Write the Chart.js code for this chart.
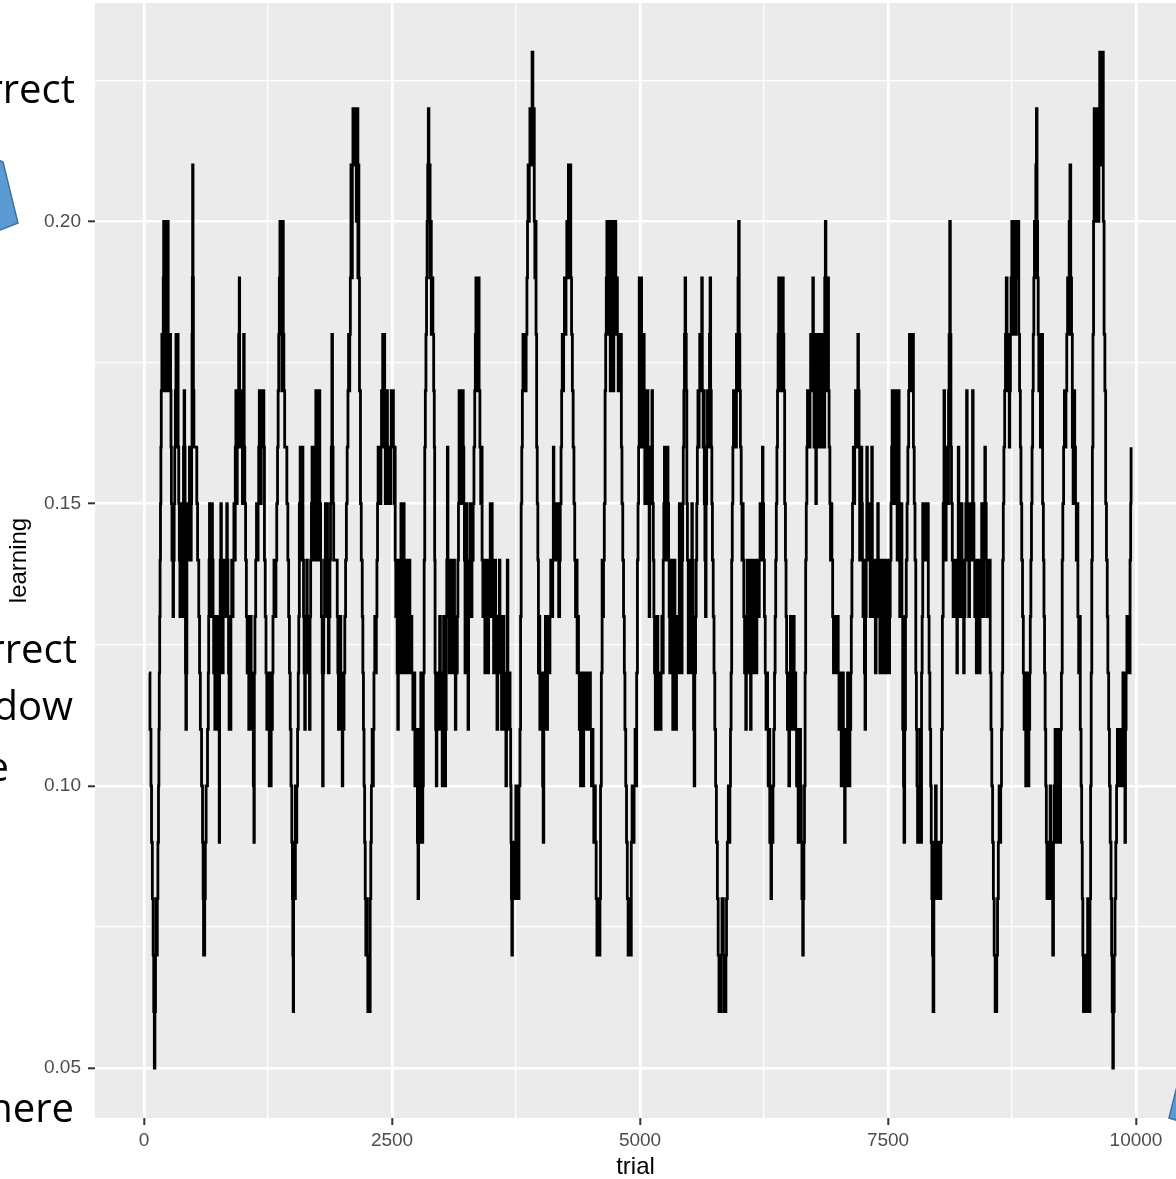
<!DOCTYPE html>
<html>
<head>
<meta charset="utf-8">
<script src="https://cdn.jsdelivr.net/npm/chart.js@4.4.1/dist/chart.umd.min.js"></script>
<style>
  html, body { margin: 0; padding: 0; background: #ffffff; }
</style>
</head>
<body>
<canvas id="myChart" width="1176" height="1179"></canvas>
<script>
// trial at which the value changes (step series, value holds until next trial)
const trial = [
  50, 60, 70, 76, 84, 92, 98, 104, 110, 116,
  122, 128, 134, 140, 146, 150, 154, 158, 162, 166,
  170, 174, 180, 186, 190, 194, 198, 202, 206, 210,
  214, 218, 222, 226, 230, 236, 240, 244, 248, 252,
  256, 262, 268, 272, 276, 282, 288, 292, 298, 304,
  310, 316, 322, 330, 336, 344, 350, 356, 362, 368,
  374, 380, 386, 392, 398, 404, 410, 414, 418, 422,
  428, 432, 440, 446, 452, 458, 464, 470, 476, 480,
  484, 487, 490, 494, 498, 503, 532, 540, 552, 560,
  568, 580, 590, 596, 600, 612, 618, 626, 640, 648,
  652, 656, 660, 668, 675, 682, 690, 696, 702, 708,
  714, 720, 726, 732, 738, 744, 750, 754, 758, 762,
  768, 774, 780, 786, 792, 798, 804, 810, 816, 822,
  828, 834, 840, 846, 852, 858, 864, 870, 876, 884,
  890, 898, 906, 914, 920, 926, 932, 940, 948, 954,
  960, 964, 970, 976, 984, 992, 998, 1004, 1010, 1016,
  1024, 1032, 1040, 1048, 1056, 1064, 1072, 1080, 1088, 1096,
  1102, 1108, 1112, 1118, 1126, 1134, 1142, 1150, 1156, 1162,
  1168, 1174, 1182, 1190, 1208, 1214, 1222, 1230, 1238, 1246,
  1254, 1262, 1270, 1276, 1282, 1288, 1294, 1300, 1310, 1320,
  1330, 1338, 1346, 1352, 1358, 1364, 1370, 1380, 1390, 1398,
  1404, 1410, 1418, 1440, 1450, 1458, 1466, 1474, 1482, 1490,
  1496, 1500, 1504, 1508, 1514, 1520, 1526, 1532, 1540, 1548,
  1555, 1560, 1566, 1574, 1582, 1590, 1596, 1602, 1608, 1614,
  1620, 1626, 1632, 1640, 1646, 1654, 1660, 1668, 1674, 1680,
  1688, 1694, 1700, 1708, 1716, 1724, 1732, 1738, 1746, 1752,
  1760, 1766, 1772, 1780, 1788, 1796, 1800, 1806, 1812, 1820,
  1828, 1836, 1844, 1850, 1858, 1866, 1874, 1880, 1888, 1894,
  1900, 1906, 1912, 1948, 1954, 1960, 1966, 1972, 1978, 1984,
  1990, 1998, 2004, 2010, 2016, 2024, 2032, 2040, 2048, 2056,
  2062, 2068, 2074, 2080, 2086, 2094, 2100, 2106, 2120, 2126,
  2140, 2146, 2156, 2162, 2166, 2172, 2182, 2190, 2200, 2206,
  2212, 2218, 2224, 2230, 2236, 2244, 2250, 2256, 2268, 2274,
  2280, 2286, 2292, 2300, 2306, 2312, 2318, 2326, 2336, 2342,
  2348, 2354, 2360, 2366, 2372, 2380, 2388, 2394, 2400, 2406,
  2414, 2420, 2426, 2432, 2440, 2448, 2454, 2462, 2470, 2478,
  2486, 2492, 2500, 2508, 2514, 2520, 2526, 2532, 2538, 2546,
  2552, 2558, 2564, 2570, 2576, 2584, 2590, 2596, 2602, 2610,
  2616, 2622, 2630, 2638, 2646, 2654, 2660, 2666, 2674, 2680,
  2690, 2700, 2710, 2720, 2730, 2740, 2748, 2756, 2762, 2768,
  2776, 2782, 2790, 2796, 2804, 2810, 2816, 2824, 2830, 2836,
  2842, 2848, 2854, 2860, 2866, 2872, 2878, 2884, 2890, 2896,
  2904, 2912, 2920, 2926, 2930, 2934, 2940, 2946, 2952, 2960,
  2966, 2974, 2980, 2988, 2994, 3000, 3006, 3012, 3020, 3026,
  3034, 3040, 3046, 3052, 3058, 3064, 3070, 3076, 3082, 3090,
  3096, 3104, 3110, 3116, 3124, 3130, 3138, 3144, 3150, 3158,
  3164, 3170, 3176, 3182, 3190, 3196, 3202, 3210, 3218, 3224,
  3230, 3236, 3242, 3248, 3254, 3260, 3266, 3272, 3280, 3286,
  3292, 3300, 3306, 3312, 3318, 3326, 3334, 3340, 3346, 3352,
  3358, 3364, 3372, 3378, 3386, 3394, 3400, 3408, 3416, 3424,
  3430, 3436, 3444, 3450, 3458, 3466, 3474, 3482, 3490, 3496,
  3504, 3510, 3516, 3524, 3530, 3538, 3544, 3552, 3558, 3566,
  3574, 3582, 3588, 3596, 3604, 3612, 3620, 3628, 3636, 3642,
  3648, 3654, 3662, 3668, 3676, 3684, 3690, 3696, 3700, 3704,
  3708, 3714, 3720, 3726, 3734, 3740, 3748, 3756, 3764, 3772,
  3780, 3790, 3796, 3802, 3808, 3814, 3820, 3828, 3836, 3844,
  3852, 3860, 3866, 3872, 3878, 3884, 3890, 3898, 3904, 3912,
  3920, 3926, 3934, 3940, 3946, 3952, 3958, 3964, 3970, 3976,
  3984, 3990, 3996, 4004, 4012, 4018, 4024, 4030, 4038, 4046,
  4052, 4060, 4068, 4076, 4084, 4092, 4100, 4110, 4120, 4126,
  4132, 4140, 4148, 4156, 4164, 4172, 4180, 4190, 4196, 4204,
  4210, 4216, 4224, 4230, 4238, 4246, 4254, 4262, 4270, 4278,
  4286, 4294, 4302, 4310, 4318, 4326, 4334, 4342, 4350, 4358,
  4366, 4374, 4380, 4388, 4394, 4400, 4408, 4416, 4424, 4432,
  4440, 4448, 4456, 4464, 4472, 4480, 4490, 4500, 4510, 4518,
  4526, 4534, 4542, 4550, 4558, 4566, 4580, 4588, 4596, 4602,
  4610, 4618, 4624, 4632, 4640, 4648, 4654, 4660, 4666, 4672,
  4680, 4688, 4694, 4700, 4706, 4712, 4718, 4724, 4730, 4736,
  4742, 4748, 4756, 4764, 4772, 4780, 4788, 4796, 4804, 4812,
  4818, 4826, 4834, 4842, 4848, 4856, 4864, 4872, 4880, 4896,
  4904, 4912, 4920, 4930, 4940, 4950, 4958, 4966, 4974, 4980,
  4986, 4992, 4998, 5004, 5010, 5016, 5022, 5030, 5036, 5042,
  5048, 5054, 5060, 5066, 5072, 5080, 5086, 5092, 5098, 5106,
  5112, 5120, 5126, 5134, 5140, 5146, 5154, 5160, 5166, 5174,
  5180, 5188, 5196, 5204, 5212, 5220, 5226, 5234, 5240, 5246,
  5254, 5262, 5268, 5276, 5282, 5288, 5294, 5300, 5308, 5316,
  5322, 5330, 5338, 5346, 5352, 5360, 5368, 5376, 5382, 5390,
  5396, 5404, 5410, 5416, 5424, 5430, 5436, 5442, 5448, 5454,
  5460, 5466, 5472, 5478, 5486, 5492, 5500, 5508, 5514, 5522,
  5528, 5534, 5540, 5546, 5552, 5560, 5566, 5572, 5578, 5584,
  5590, 5596, 5602, 5608, 5616, 5622, 5628, 5636, 5642, 5648,
  5654, 5660, 5666, 5672, 5680, 5688, 5694, 5700, 5706, 5712,
  5718, 5724, 5730, 5738, 5746, 5754, 5762, 5770, 5780, 5788,
  5796, 5804, 5810, 5818, 5826, 5840, 5848, 5854, 5860, 5866,
  5872, 5880, 5890, 5898, 5906, 5912, 5918, 5924, 5930, 5936,
  5942, 5950, 5958, 5964, 5972, 5980, 5988, 5994, 6000, 6006,
  6012, 6020, 6028, 6034, 6040, 6046, 6054, 6060, 6066, 6072,
  6080, 6086, 6094, 6100, 6108, 6114, 6120, 6128, 6134, 6140,
  6148, 6156, 6162, 6170, 6178, 6186, 6194, 6202, 6210, 6218,
  6226, 6234, 6240, 6246, 6254, 6262, 6270, 6278, 6286, 6292,
  6300, 6308, 6314, 6320, 6326, 6334, 6340, 6348, 6356, 6362,
  6368, 6374, 6380, 6386, 6392, 6398, 6404, 6412, 6420, 6428,
  6436, 6444, 6450, 6458, 6466, 6472, 6478, 6486, 6492, 6500,
  6508, 6516, 6522, 6530, 6538, 6546, 6554, 6562, 6570, 6578,
  6586, 6594, 6602, 6610, 6618, 6626, 6632, 6640, 6646, 6652,
  6658, 6664, 6670, 6676, 6682, 6688, 6694, 6700, 6708, 6714,
  6720, 6728, 6734, 6742, 6748, 6754, 6760, 6766, 6772, 6778,
  6784, 6790, 6796, 6804, 6810, 6818, 6824, 6830, 6836, 6844,
  6850, 6856, 6862, 6868, 6874, 6880, 6886, 6894, 6900, 6906,
  6914, 6920, 6928, 6934, 6942, 6950, 6958, 6966, 6974, 6982,
  6990, 6998, 7006, 7014, 7020, 7028, 7036, 7044, 7050, 7056,
  7062, 7068, 7076, 7084, 7092, 7100, 7108, 7116, 7124, 7130,
  7136, 7142, 7150, 7156, 7164, 7172, 7180, 7188, 7196, 7202,
  7208, 7214, 7220, 7228, 7236, 7242, 7248, 7254, 7262, 7268,
  7274, 7280, 7286, 7292, 7300, 7306, 7314, 7320, 7328, 7336,
  7342, 7350, 7358, 7366, 7372, 7380, 7388, 7396, 7402, 7410,
  7418, 7426, 7434, 7440, 7448, 7456, 7464, 7470, 7478, 7486,
  7494, 7500, 7508, 7516, 7522, 7530, 7536, 7542, 7550, 7556,
  7564, 7570, 7578, 7586, 7592, 7600, 7606, 7612, 7618, 7626,
  7634, 7640, 7648, 7656, 7661, 7668, 7676, 7684, 7692, 7700,
  7708, 7716, 7724, 7730, 7738, 7746, 7756, 7764, 7772, 7780,
  7786, 7792, 7798, 7806, 7814, 7822, 7830, 7838, 7844, 7850,
  7858, 7866, 7874, 7882, 7890, 7898, 7906, 7914, 7922, 7930,
  7936, 7942, 7948, 7954, 7962, 7970, 7978, 7986, 7992, 8000,
  8008, 8016, 8024, 8032, 8040, 8048, 8056, 8064, 8070, 8078,
  8086, 8094, 8102, 8110, 8116, 8122, 8128, 8134, 8140, 8148,
  8156, 8164, 8172, 8180, 8188, 8194, 8200, 8208, 8214, 8222,
  8230, 8238, 8246, 8254, 8262, 8268, 8276, 8284, 8292, 8298,
  8306, 8314, 8322, 8330, 8338, 8346, 8352, 8358, 8366, 8374,
  8382, 8390, 8398, 8406, 8414, 8422, 8428, 8436, 8444, 8452,
  8460, 8468, 8476, 8482, 8490, 8498, 8506, 8514, 8522, 8530,
  8538, 8546, 8554, 8562, 8570, 8580, 8596, 8604, 8612, 8620,
  8628, 8636, 8644, 8650, 8656, 8662, 8668, 8676, 8684, 8692,
  8700, 8708, 8716, 8722, 8728, 8734, 8740, 8748, 8756, 8764,
  8772, 8780, 8788, 8796, 8804, 8812, 8818, 8826, 8834, 8840,
  8848, 8856, 8864, 8872, 8880, 8888, 8896, 8904, 8912, 8920,
  8928, 8934, 8940, 8946, 8952, 8958, 8964, 8970, 8976, 8982,
  8990, 8996, 9002, 9008, 9014, 9020, 9028, 9036, 9042, 9050,
  9058, 9066, 9072, 9078, 9084, 9090, 9096, 9102, 9110, 9118,
  9126, 9134, 9142, 9150, 9160, 9168, 9176, 9184, 9192, 9200,
  9208, 9216, 9224, 9232, 9240, 9248, 9256, 9262, 9270, 9278,
  9286, 9294, 9302, 9310, 9318, 9326, 9334, 9342, 9350, 9358,
  9366, 9374, 9382, 9390, 9398, 9406, 9414, 9422, 9430, 9438,
  9446, 9452, 9458, 9464, 9470, 9480, 9488, 9496, 9504, 9512,
  9520, 9528, 9536, 9542, 9548, 9554, 9560, 9566, 9572, 9578,
  9588, 9596, 9604, 9612, 9620, 9626, 9634, 9650, 9656, 9670,
  9678, 9686, 9694, 9702, 9710, 9716, 9724, 9732, 9740, 9748,
  9754, 9760, 9766, 9772, 9780, 9788, 9796, 9804, 9812, 9820,
  9828, 9836, 9844, 9852, 9860, 9868, 9876, 9882, 9888, 9894,
  9900, 9908, 9916, 9924, 9932, 9940, 9946, 9950,
];

const learning = [
  0.12, 0.11, 0.10, 0.09, 0.08, 0.07, 0.06, 0.05, 0.06, 0.07,
  0.08, 0.07, 0.08, 0.09, 0.10, 0.11, 0.12, 0.13, 0.14, 0.15,
  0.16, 0.17, 0.18, 0.17, 0.18, 0.19, 0.20, 0.19, 0.18, 0.17,
  0.18, 0.17, 0.18, 0.19, 0.20, 0.19, 0.20, 0.18, 0.17, 0.18,
  0.17, 0.18, 0.17, 0.16, 0.15, 0.14, 0.15, 0.13, 0.14, 0.15,
  0.16, 0.17, 0.18, 0.17, 0.18, 0.16, 0.15, 0.14, 0.13, 0.14,
  0.15, 0.14, 0.13, 0.14, 0.16, 0.17, 0.16, 0.14, 0.12, 0.11,
  0.12, 0.14, 0.15, 0.14, 0.15, 0.16, 0.15, 0.14, 0.15, 0.16,
  0.18, 0.19, 0.21, 0.19, 0.17, 0.16, 0.15, 0.14, 0.13, 0.12,
  0.11, 0.10, 0.09, 0.08, 0.07, 0.08, 0.09, 0.10, 0.11, 0.12,
  0.13, 0.14, 0.15, 0.14, 0.13, 0.15, 0.14, 0.13, 0.12, 0.13,
  0.11, 0.12, 0.13, 0.12, 0.11, 0.12, 0.13, 0.11, 0.09, 0.12,
  0.14, 0.15, 0.13, 0.14, 0.12, 0.13, 0.14, 0.13, 0.14, 0.13,
  0.14, 0.15, 0.14, 0.13, 0.12, 0.11, 0.12, 0.11, 0.13, 0.14,
  0.13, 0.14, 0.15, 0.14, 0.16, 0.17, 0.15, 0.16, 0.17, 0.18,
  0.19, 0.17, 0.16, 0.17, 0.16, 0.15, 0.17, 0.18, 0.16, 0.15,
  0.14, 0.13, 0.12, 0.13, 0.11, 0.12, 0.13, 0.12, 0.11, 0.12,
  0.10, 0.09, 0.12, 0.13, 0.14, 0.15, 0.14, 0.15, 0.16, 0.17,
  0.16, 0.15, 0.16, 0.17, 0.16, 0.14, 0.13, 0.12, 0.11, 0.12,
  0.11, 0.10, 0.11, 0.10, 0.12, 0.11, 0.12, 0.13, 0.14, 0.13,
  0.14, 0.15, 0.16, 0.17, 0.18, 0.19, 0.20, 0.18, 0.17, 0.20,
  0.18, 0.17, 0.16, 0.15, 0.14, 0.13, 0.12, 0.11, 0.10, 0.09,
  0.08, 0.07, 0.06, 0.08, 0.09, 0.08, 0.10, 0.09, 0.10, 0.11,
  0.12, 0.13, 0.15, 0.16, 0.14, 0.15, 0.16, 0.14, 0.13, 0.12,
  0.11, 0.13, 0.12, 0.14, 0.13, 0.12, 0.13, 0.11, 0.13, 0.14,
  0.15, 0.16, 0.15, 0.16, 0.14, 0.15, 0.17, 0.15, 0.14, 0.16,
  0.15, 0.17, 0.15, 0.14, 0.13, 0.12, 0.10, 0.12, 0.13, 0.14,
  0.15, 0.13, 0.15, 0.13, 0.12, 0.13, 0.14, 0.15, 0.16, 0.18,
  0.16, 0.15, 0.14, 0.13, 0.12, 0.11, 0.12, 0.11, 0.13, 0.12,
  0.11, 0.10, 0.12, 0.11, 0.12, 0.13, 0.14, 0.15, 0.16, 0.17,
  0.18, 0.17, 0.18, 0.19, 0.21, 0.19, 0.21, 0.22, 0.21, 0.22,
  0.20, 0.22, 0.19, 0.21, 0.19, 0.17, 0.15, 0.14, 0.13, 0.12,
  0.11, 0.10, 0.09, 0.08, 0.07, 0.08, 0.07, 0.06, 0.07, 0.06,
  0.08, 0.09, 0.10, 0.11, 0.10, 0.11, 0.12, 0.13, 0.12, 0.13,
  0.14, 0.15, 0.16, 0.15, 0.16, 0.15, 0.16, 0.17, 0.16, 0.18,
  0.16, 0.18, 0.16, 0.15, 0.16, 0.17, 0.16, 0.15, 0.16, 0.15,
  0.16, 0.17, 0.16, 0.17, 0.16, 0.15, 0.16, 0.14, 0.13, 0.14,
  0.12, 0.11, 0.13, 0.14, 0.12, 0.13, 0.15, 0.13, 0.12, 0.14,
  0.15, 0.13, 0.14, 0.12, 0.13, 0.14, 0.12, 0.13, 0.14, 0.12,
  0.13, 0.12, 0.11, 0.12, 0.10, 0.11, 0.10, 0.09, 0.08, 0.09,
  0.11, 0.10, 0.12, 0.10, 0.09, 0.10, 0.12, 0.14, 0.16, 0.17,
  0.18, 0.19, 0.20, 0.21, 0.22, 0.20, 0.21, 0.19, 0.20, 0.18,
  0.19, 0.18, 0.17, 0.16, 0.14, 0.12, 0.11, 0.10, 0.11, 0.12,
  0.11, 0.12, 0.13, 0.11, 0.12, 0.11, 0.10, 0.12, 0.13, 0.12,
  0.10, 0.11, 0.13, 0.14, 0.16, 0.14, 0.13, 0.12, 0.13, 0.14,
  0.12, 0.13, 0.12, 0.13, 0.14, 0.12, 0.11, 0.13, 0.12, 0.13,
  0.14, 0.15, 0.17, 0.16, 0.17, 0.15, 0.16, 0.17, 0.16, 0.15,
  0.14, 0.12, 0.14, 0.15, 0.13, 0.12, 0.11, 0.13, 0.14, 0.15,
  0.14, 0.13, 0.15, 0.14, 0.15, 0.16, 0.17, 0.18, 0.19, 0.18,
  0.17, 0.18, 0.19, 0.17, 0.16, 0.15, 0.16, 0.14, 0.13, 0.14,
  0.13, 0.12, 0.13, 0.14, 0.13, 0.12, 0.13, 0.14, 0.15, 0.14,
  0.15, 0.13, 0.14, 0.12, 0.13, 0.14, 0.12, 0.13, 0.11, 0.12,
  0.13, 0.14, 0.12, 0.13, 0.11, 0.12, 0.13, 0.12, 0.11, 0.12,
  0.10, 0.12, 0.14, 0.12, 0.11, 0.12, 0.11, 0.10, 0.09, 0.08,
  0.07, 0.08, 0.09, 0.08, 0.09, 0.08, 0.10, 0.09, 0.10, 0.08,
  0.10, 0.11, 0.13, 0.15, 0.16, 0.17, 0.18, 0.17, 0.18, 0.17,
  0.18, 0.19, 0.20, 0.21, 0.20, 0.21, 0.22, 0.21, 0.22, 0.23,
  0.21, 0.22, 0.20, 0.19, 0.20, 0.18, 0.16, 0.15, 0.14, 0.12,
  0.13, 0.11, 0.12, 0.11, 0.12, 0.10, 0.09, 0.11, 0.12, 0.13,
  0.12, 0.11, 0.12, 0.13, 0.12, 0.13, 0.14, 0.13, 0.14, 0.16,
  0.15, 0.14, 0.15, 0.14, 0.15, 0.14, 0.13, 0.14, 0.15, 0.16,
  0.17, 0.18, 0.17, 0.18, 0.19, 0.18, 0.19, 0.20, 0.19, 0.21,
  0.20, 0.21, 0.19, 0.18, 0.17, 0.16, 0.15, 0.14, 0.13, 0.14,
  0.12, 0.13, 0.12, 0.11, 0.12, 0.10, 0.11, 0.12, 0.10, 0.11,
  0.12, 0.11, 0.12, 0.11, 0.12, 0.11, 0.12, 0.11, 0.10, 0.11,
  0.10, 0.09, 0.10, 0.09, 0.08, 0.07, 0.08, 0.07, 0.08, 0.10,
  0.12, 0.14, 0.13, 0.14, 0.15, 0.17, 0.18, 0.19, 0.20, 0.19,
  0.18, 0.19, 0.20, 0.17, 0.18, 0.20, 0.19, 0.20, 0.17, 0.18,
  0.19, 0.20, 0.18, 0.19, 0.18, 0.17, 0.18, 0.17, 0.18, 0.16,
  0.15, 0.14, 0.13, 0.12, 0.11, 0.10, 0.09, 0.08, 0.07, 0.08,
  0.07, 0.09, 0.10, 0.09, 0.10, 0.11, 0.10, 0.12, 0.14, 0.15,
  0.16, 0.19, 0.17, 0.16, 0.19, 0.17, 0.16, 0.17, 0.18, 0.16,
  0.15, 0.17, 0.16, 0.15, 0.17, 0.16, 0.15, 0.13, 0.15, 0.16,
  0.15, 0.17, 0.15, 0.14, 0.13, 0.12, 0.11, 0.12, 0.11, 0.13,
  0.12, 0.11, 0.12, 0.11, 0.12, 0.13, 0.12, 0.14, 0.15, 0.16,
  0.15, 0.14, 0.15, 0.16, 0.15, 0.14, 0.13, 0.12, 0.13, 0.14,
  0.12, 0.11, 0.12, 0.14, 0.13, 0.11, 0.12, 0.13, 0.12, 0.13,
  0.15, 0.14, 0.13, 0.12, 0.14, 0.15, 0.16, 0.17, 0.18, 0.19,
  0.18, 0.17, 0.15, 0.14, 0.12, 0.13, 0.14, 0.12, 0.13, 0.15,
  0.14, 0.12, 0.11, 0.10, 0.12, 0.13, 0.14, 0.15, 0.16, 0.17,
  0.16, 0.17, 0.18, 0.17, 0.18, 0.19, 0.17, 0.16, 0.17, 0.15,
  0.14, 0.13, 0.15, 0.16, 0.17, 0.16, 0.17, 0.18, 0.19, 0.17,
  0.16, 0.15, 0.14, 0.13, 0.12, 0.11, 0.10, 0.09, 0.08, 0.07,
  0.06, 0.07, 0.06, 0.07, 0.08, 0.07, 0.06, 0.07, 0.06, 0.07,
  0.08, 0.09, 0.10, 0.09, 0.10, 0.11, 0.12, 0.14, 0.15, 0.16,
  0.17, 0.16, 0.17, 0.16, 0.18, 0.17, 0.19, 0.20, 0.18, 0.17,
  0.16, 0.15, 0.14, 0.15, 0.14, 0.13, 0.12, 0.13, 0.11, 0.13,
  0.14, 0.12, 0.13, 0.14, 0.12, 0.11, 0.13, 0.12, 0.14, 0.13,
  0.12, 0.13, 0.14, 0.12, 0.13, 0.14, 0.13, 0.14, 0.15, 0.14,
  0.15, 0.16, 0.15, 0.14, 0.13, 0.12, 0.11, 0.12, 0.11, 0.10,
  0.11, 0.09, 0.10, 0.08, 0.10, 0.09, 0.10, 0.11, 0.12, 0.13,
  0.14, 0.15, 0.16, 0.17, 0.18, 0.19, 0.18, 0.19, 0.17, 0.18,
  0.19, 0.18, 0.17, 0.15, 0.14, 0.13, 0.12, 0.11, 0.12, 0.10,
  0.12, 0.13, 0.12, 0.11, 0.12, 0.13, 0.11, 0.12, 0.11, 0.10,
  0.11, 0.09, 0.10, 0.11, 0.10, 0.09, 0.08, 0.07, 0.08, 0.09,
  0.10, 0.12, 0.14, 0.15, 0.16, 0.17, 0.16, 0.17, 0.16, 0.17,
  0.18, 0.17, 0.18, 0.19, 0.18, 0.16, 0.17, 0.18, 0.15, 0.16,
  0.18, 0.17, 0.18, 0.17, 0.16, 0.18, 0.17, 0.18, 0.16, 0.17,
  0.18, 0.16, 0.19, 0.20, 0.18, 0.17, 0.18, 0.19, 0.17, 0.16,
  0.15, 0.14, 0.15, 0.14, 0.13, 0.12, 0.13, 0.12, 0.13, 0.12,
  0.13, 0.12, 0.11, 0.12, 0.11, 0.10, 0.11, 0.12, 0.11, 0.10,
  0.09, 0.11, 0.10, 0.11, 0.12, 0.11, 0.10, 0.11, 0.12, 0.13,
  0.14, 0.15, 0.16, 0.15, 0.16, 0.17, 0.16, 0.17, 0.18, 0.17,
  0.16, 0.14, 0.15, 0.16, 0.15, 0.14, 0.13, 0.14, 0.12, 0.11,
  0.13, 0.14, 0.16, 0.15, 0.14, 0.15, 0.14, 0.13, 0.14, 0.16,
  0.14, 0.13, 0.14, 0.13, 0.12, 0.13, 0.14, 0.15, 0.14, 0.13,
  0.12, 0.14, 0.13, 0.12, 0.14, 0.13, 0.12, 0.13, 0.14, 0.12,
  0.13, 0.14, 0.12, 0.13, 0.14, 0.15, 0.16, 0.17, 0.16, 0.17,
  0.15, 0.16, 0.17, 0.15, 0.14, 0.16, 0.17, 0.15, 0.13, 0.14,
  0.15, 0.13, 0.11, 0.10, 0.09, 0.11, 0.13, 0.14, 0.15, 0.16,
  0.17, 0.18, 0.17, 0.18, 0.17, 0.18, 0.16, 0.15, 0.14, 0.12,
  0.11, 0.10, 0.09, 0.10, 0.09, 0.11, 0.09, 0.12, 0.13, 0.15,
  0.14, 0.15, 0.14, 0.15, 0.14, 0.15, 0.13, 0.12, 0.11, 0.10,
  0.09, 0.08, 0.07, 0.06, 0.08, 0.09, 0.10, 0.09, 0.08, 0.09,
  0.08, 0.09, 0.08, 0.09, 0.11, 0.13, 0.15, 0.17, 0.16, 0.14,
  0.15, 0.16, 0.15, 0.17, 0.18, 0.20, 0.18, 0.16, 0.15, 0.14,
  0.13, 0.14, 0.13, 0.14, 0.13, 0.12, 0.14, 0.16, 0.14, 0.13,
  0.14, 0.15, 0.13, 0.14, 0.12, 0.13, 0.14, 0.15, 0.17, 0.15,
  0.14, 0.13, 0.14, 0.15, 0.14, 0.15, 0.17, 0.15, 0.14, 0.13,
  0.14, 0.12, 0.13, 0.14, 0.13, 0.12, 0.13, 0.14, 0.15, 0.14,
  0.13, 0.14, 0.16, 0.15, 0.14, 0.13, 0.14, 0.13, 0.14, 0.12,
  0.11, 0.10, 0.09, 0.08, 0.07, 0.06, 0.07, 0.08, 0.09, 0.10,
  0.09, 0.10, 0.11, 0.12, 0.14, 0.15, 0.16, 0.17, 0.18, 0.19,
  0.18, 0.17, 0.18, 0.16, 0.17, 0.18, 0.19, 0.20, 0.18, 0.19,
  0.20, 0.18, 0.19, 0.20, 0.19, 0.20, 0.18, 0.17, 0.16, 0.15,
  0.14, 0.13, 0.12, 0.11, 0.12, 0.10, 0.11, 0.12, 0.10, 0.11,
  0.12, 0.13, 0.14, 0.15, 0.16, 0.17, 0.18, 0.19, 0.20, 0.19,
  0.21, 0.22, 0.20, 0.19, 0.18, 0.17, 0.18, 0.16, 0.17, 0.18,
  0.15, 0.14, 0.13, 0.12, 0.11, 0.10, 0.09, 0.08, 0.09, 0.08,
  0.09, 0.10, 0.09, 0.08, 0.07, 0.09, 0.10, 0.11, 0.10, 0.09,
  0.10, 0.11, 0.10, 0.09, 0.11, 0.12, 0.14, 0.15, 0.16, 0.17,
  0.16, 0.17, 0.18, 0.19, 0.18, 0.20, 0.21, 0.19, 0.18, 0.16,
  0.15, 0.17, 0.16, 0.15, 0.14, 0.15, 0.13, 0.12, 0.13, 0.11,
  0.10, 0.09, 0.08, 0.07, 0.06, 0.07, 0.06, 0.07, 0.06, 0.08,
  0.07, 0.06, 0.08, 0.10, 0.12, 0.14, 0.16, 0.18, 0.20, 0.22,
  0.20, 0.22, 0.21, 0.22, 0.20, 0.22, 0.23, 0.21, 0.23, 0.20,
  0.18, 0.17, 0.15, 0.14, 0.13, 0.12, 0.11, 0.10, 0.09, 0.08,
  0.07, 0.06, 0.05, 0.06, 0.07, 0.08, 0.09, 0.10, 0.11, 0.10,
  0.11, 0.10, 0.11, 0.10, 0.11, 0.12, 0.11, 0.10, 0.09, 0.11,
  0.12, 0.13, 0.12, 0.13, 0.12, 0.14, 0.15, 0.16,
];

// labelled ticks and the full set of grid positions (major + minor)
const xTicks = [0, 2500, 5000, 7500, 10000];
const xGrid = [0, 1250, 2500, 3750, 5000, 6250, 7500, 8750, 10000];
const yTicks = [0.05, 0.1, 0.15, 0.2];
const yGrid = [0.05, 0.075, 0.1, 0.125, 0.15, 0.175, 0.2, 0.225];

const axisFont = "'Liberation Sans', Arial, sans-serif";

const isMajorX = (v) => xTicks.includes(v);
const isMajorY = (v) => yTicks.some((t) => Math.abs(t - v) < 1e-6);

const plugin = {
  id: "panel_background",
  beforeDraw: (chart) => {
    const ctx = chart.ctx;
    const a = chart.chartArea;
    ctx.save();
    ctx.fillStyle = "#FFFFFF";
    ctx.fillRect(0, 0, chart.width, chart.height);
    ctx.fillStyle = "#EBEBEB";
    ctx.fillRect(a.left, a.top, a.right - a.left, a.bottom - a.top);
    ctx.restore();
  },
};

const drawShape = (ctx, pts) => {
  ctx.beginPath();
  pts.forEach((p, i) => (i ? ctx.lineTo(p[0], p[1]) : ctx.moveTo(p[0], p[1])));
  ctx.closePath();
  ctx.fill();
  ctx.stroke();
};

// slide text and arrow shapes that sit around the pasted plot
const overlay = {
  id: "slide_overlay",
  afterDraw: (chart) => {
    const ctx = chart.ctx;
    ctx.save();
    ctx.fillStyle = "#000000";
    ctx.font = "40px 'Open Sans', 'Noto Sans', sans-serif";
    ctx.textAlign = "right";
    ctx.textBaseline = "alphabetic";
    ctx.fillText("rrect", 75, 103);
    ctx.fillText("rrect", 77, 663);
    ctx.fillText("dow", 73, 720);
    ctx.fillText("e", 9, 781);
    ctx.fillText("here", 74, 1122);
    ctx.fillStyle = "#5B9BD5";
    ctx.strokeStyle = "#41719C";
    ctx.lineWidth = 1.5;
    drawShape(ctx, [[-6, 158], [3, 162], [18, 223], [0, 230], [-6, 230]]);
    drawShape(ctx, [[1169, 1118], [1177, 1086], [1182, 1086], [1182, 1122]]);
    ctx.restore();
  },
};

const data = {
  datasets: [
    {
      label: "learning",
      data: trial.map((t, i) => ({ x: t, y: learning[i] })),
      borderColor: "#000000",
      borderWidth: 2.8,
      pointRadius: 0,
      stepped: true,
      fill: false,
    },
  ],
};

const config = {
  type: "line",
  data: data,
  plugins: [plugin, overlay],
  options: {
    responsive: false,
    animation: false,
    events: [],
    layout: { padding: { top: 3, right: 0, bottom: 0, left: 0 } },
    scales: {
      x: {
        type: "linear",
        min: -494,
        max: 10403,
        afterBuildTicks: (scale) => {
          scale.ticks = xGrid.map((v) => ({ value: v }));
        },
        afterFit: (scale) => {
          scale.height = 61;
          scale.paddingLeft = 0;
          scale.paddingRight = 0;
        },
        border: { display: false },
        grid: {
          color: "#FFFFFF",
          lineWidth: (c) => (c.tick && isMajorX(c.tick.value) ? 2.6 : 1.3),
          drawTicks: true,
          tickLength: 7,
          tickWidth: 2,
          tickColor: (c) => (c.tick && isMajorX(c.tick.value) ? "#333333" : "rgba(0,0,0,0)"),
        },
        ticks: {
          autoSkip: false,
          maxRotation: 0,
          padding: 4,
          color: "#4D4D4D",
          font: { family: axisFont, size: 19 },
          callback: (v) => (isMajorX(v) ? String(v) : ""),
        },
        title: {
          display: true,
          text: "trial",
          color: "#000000",
          padding: 0,
          font: { family: axisFont, size: 24, lineHeight: 1 },
        },
      },
      y: {
        min: 0.04114,
        max: 0.2387,
        afterBuildTicks: (scale) => {
          scale.ticks = yGrid.map((v) => ({ value: v }));
        },
        afterFit: (scale) => {
          scale.width = 95;
          scale.paddingTop = 0;
          scale.paddingBottom = 0;
        },
        border: { display: false },
        grid: {
          color: "#FFFFFF",
          lineWidth: (c) => (c.tick && isMajorY(c.tick.value) ? 2.6 : 1.3),
          drawTicks: true,
          tickLength: 7,
          tickWidth: 2,
          tickColor: (c) => (c.tick && isMajorY(c.tick.value) ? "#333333" : "rgba(0,0,0,0)"),
        },
        ticks: {
          autoSkip: false,
          padding: 7,
          color: "#4D4D4D",
          font: { family: axisFont, size: 19 },
          callback: (v) => (isMajorY(v) ? v.toFixed(2) : ""),
        },
        title: {
          display: true,
          text: "learning",
          color: "#000000",
          padding: { top: 7, bottom: 0 },
          font: { family: axisFont, size: 24, lineHeight: 1 },
        },
      },
    },
    plugins: {
      legend: { display: false },
      tooltip: { enabled: false },
    },
  },
};

const myChart = new Chart(document.getElementById("myChart"), config);
</script>
</body>
</html>
